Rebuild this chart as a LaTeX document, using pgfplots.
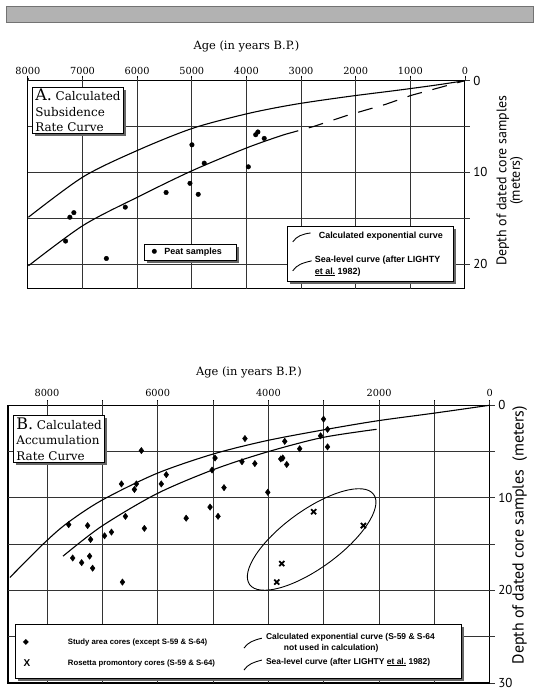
\documentclass[border=0pt]{standalone}
\usepackage{pgfplots}
\pgfplotsset{compat=1.18}
\usepackage{fontspec}
\setmainfont{DejaVu Serif}
\newfontfamily\ptsans{PT Sans}
\newfontfamily\lsans{Liberation Sans}
\newfontfamily\djsans{DejaVu Sans}
\usetikzlibrary{shadows}

\pgfplotsset{
  depthaxis/.style={
    scale only axis, anchor=north west, clip=false,
    x dir=reverse, y dir=reverse,
    axis line style={line width=1.1pt, black},
    xtick pos=right, xticklabel pos=right,
    ytick pos=right, yticklabel pos=right,
    tick align=outside,
    major tick length=5pt, minor tick length=5pt,
    every tick/.append style={black, line width=0.8pt},
    /pgf/number format/assume math mode=true,
    /pgf/number format/1000 sep={},
    xticklabel style={font=\fontsize{9.8}{11}\selectfont},
    yticklabel style={font=\ptsans\fontsize{13}{14}\selectfont},
    every axis x label/.style={at={(axis description cs:0.5,1)}, anchor=base,
      font=\fontsize{11.5}{13}\selectfont},
  },
  peat/.style={only marks, mark=*, mark size=2.3pt, black},
  cores/.style={only marks, mark=diamond*, mark size=3.2pt, black},
  rosetta/.style={only marks, mark=x, mark size=3.6pt, black,
    mark options={line width=1.8pt}},
  curve/.style={no marks, smooth, black, line width=1.1pt},
}
\tikzset{
  boxshadow/.style={drop shadow={shadow xshift=2.5pt, shadow yshift=-2.5pt, fill=black!60, opacity=1}},
  gridl/.style={black!80, line width=0.7pt},
}

\begin{document}
\begin{tikzpicture}
\path (0pt,0pt) rectangle (536pt,-691pt);

% ---- A: subsidence
\begin{axis}[depthaxis, at={(28pt,-81pt)}, width=439pt, height=209pt,
  xmin=0, xmax=8000, ymin=0, ymax=22.7,
  xtick={0,1000,...,8000},
  ytick={0,10,20}, minor ytick={5,15},
  xticklabel shift=-2pt,
  xlabel={Age (in years B.P.)}, xlabel style={yshift=31pt},
  ylabel={Depth of dated core samples\\(meters)},
  every axis y label/.style={at={(axis description cs:1,0.5)}, xshift=45pt, yshift=4pt,
    rotate=90, anchor=center, align=center, font=\ptsans\fontsize{14}{13.5}\selectfont},
]
\pgfplotsinvokeforeach{1000,2000,3000,4000,5000,6000,7000}{
  \draw[gridl] (axis cs:#1,0) -- (axis cs:#1,22.7);}
\pgfplotsinvokeforeach{5,10,15,20}{
  \draw[gridl] (axis cs:0,#1) -- (axis cs:8000,#1);}
\pgfplotsinvokeforeach{0,1000,2000,3000,4000,5000,6000,7000,8000}{
  \draw[gridl] (axis cs:#1,0) -- ++(0pt,3pt);}
\pgfplotsinvokeforeach{0,5,10,15,20}{
  \draw[gridl] (axis cs:0,#1) -- ++(5pt,0pt);}
\addplot[curve] coordinates {(0,0) (490,0.45) (1170,1.0) (2160,1.75) (3130,2.6) (3980,3.6)
  (4985,5.2) (5990,7.6) (6990,10.5) (7990,14.9)};
\addplot[curve] coordinates {(3315,5.9) (3980,7.3) (4985,9.8) (5990,12.7) (6990,15.8) (7990,20.2)};
\addplot[black, line width=1.1pt, dash pattern=on 15pt off 11pt] coordinates {(3315,5.9) (2770,5.0)
  (2160,3.8) (1460,2.6) (980,1.6) (0,0)};
\addplot[peat] coordinates {
  (4997,7.0) (4772,9.0) (5033,11.2) (4882,12.4) (5470,12.2) (3965,9.4)
  (3830,5.9) (3790,5.6) (3674,6.3) (6217,13.8) (7231,14.9) (7158,14.4)
  (7310,17.5) (6563,19.4)};
\end{axis}

% ---- B: accumulation
\begin{axis}[depthaxis, at={(8pt,-407pt)}, width=484pt, height=279pt,
  xmin=0, xmax=8705, ymin=0, ymax=30,
  xtick={0,2000,...,8000}, minor xtick={1000,3000,5000,7000},
  ytick={0,10,20,30}, minor ytick={5,15,25},
  xlabel={Age (in years B.P.)}, xlabel style={yshift=30pt},
  ylabel={Depth of dated core samples\ \ (meters)},
  every axis y label/.style={at={(axis description cs:1,0.5)}, xshift=30pt, yshift=9pt,
    rotate=90, anchor=center, font=\ptsans\fontsize{16}{17}\selectfont},
]
\pgfplotsinvokeforeach{1000,2000,3000,4000,5000,6000,7000,8000}{
  \draw[gridl] (axis cs:#1,0) -- (axis cs:#1,30);}
\pgfplotsinvokeforeach{5,10,15,20,25}{
  \draw[gridl] (axis cs:0,#1) -- (axis cs:8705,#1);}
\pgfplotsinvokeforeach{0,1000,2000,3000,4000,5000,6000,7000,8000}{
  \draw[gridl] (axis cs:#1,0) -- ++(0pt,4pt);}
\pgfplotsinvokeforeach{0,5,10,15,20,25,30}{
  \draw[gridl] (axis cs:0,#1) -- ++(5pt,0pt);}
\addplot[curve] coordinates {(0,0) (1000,0.85) (2050,1.7) (3040,2.7) (4050,3.85) (5015,5.3)
  (6030,7.4) (7020,10.3) (7650,12.8) (8070,15.0) (8670,18.6)};
\addplot[curve] coordinates {(2045,2.6) (3034,3.5) (4052,5.1) (5013,7.0) (6030,9.6)
  (7020,13.1) (7710,16.3)};
\addplot[cores] coordinates {
  (6295,4.9) (4424,3.6) (4964,5.7) (4478,6.1) (4245,6.3) (5018,7.0) (5845,7.5)
  (5935,8.5) (4802,8.9) (6655,8.5) (6385,8.5) (6421,9.1) (4011,9.4) (5054,11.0)
  (4910,12.0) (5486,12.2) (6241,13.3) (6583,12.0) (7266,13.0) (7608,12.9)
  (6835,13.7) (6960,14.1) (7212,14.5) (7536,16.5) (7374,17.0) (7230,16.3)
  (7176,17.6) (6637,19.1) (3004,1.5) (2932,2.6) (3058,3.3) (2932,4.5)
  (3705,3.9) (3435,4.7) (3777,5.8) (3741,5.7) (3669,6.4)};
\addplot[rosetta] coordinates {(3183,11.5) (2284,13.0) (3759,17.1) (3849,19.1)};
\draw[line width=0.9pt, rotate around={36:(axis cs:3219,14.5)}]
  (axis cs:3219,14.5) ellipse [x radius=77pt, y radius=29pt];
\end{axis}

\begin{scope}[x=1pt, y=-1pt]
% banner
\fill[gray!60, draw=black!55, line width=0.6pt] (6,6) rectangle (536,22);

% title boxes
\node[draw, line width=0.9pt, fill=white, boxshadow, anchor=north west, inner xsep=3pt,
  inner ysep=2pt, align=left, font=\fontsize{12}{15.5}\selectfont] at (32,87)
  {{\fontsize{16}{15.5}\selectfont A.} Calculated\\Subsidence\\Rate Curve};
\node[draw, line width=0.9pt, fill=white, boxshadow, anchor=north west, inner xsep=3pt,
  inner ysep=2pt, align=left, font=\fontsize{12}{15.5}\selectfont] at (13,417)
  {{\fontsize{16}{15.5}\selectfont B.} Calculated\\Accumulation\\Rate Curve};

% legend A: peat
\node[draw, line width=0.9pt, fill=white, boxshadow, anchor=north west, inner sep=0pt,
  minimum width=92pt, minimum height=16pt] at (145,245) {};
\node[font=\djsans\fontsize{6.5}{7}\selectfont] at (155,253) {●};
\node[anchor=west, inner sep=0pt, font=\lsans\bfseries\fontsize{9}{10}\selectfont] at (165,253) {Peat samples};

% legend A: curves
\node[draw, line width=0.9pt, fill=white, boxshadow, anchor=north west, inner sep=0pt,
  minimum width=167pt, minimum height=55pt] at (288,227) {};
\draw[line width=0.9pt] (294,243) .. controls (298,237) and (304,235) .. (312,234);
\node[anchor=west, inner sep=0pt, font=\lsans\bfseries\fontsize{9}{10}\selectfont] at (320,237)
  {Calculated exponential curve};
\draw[line width=0.9pt] (294,272) .. controls (298,266) and (304,264) .. (313,262);
\node[anchor=west, inner sep=0pt, align=left, font=\lsans\bfseries\fontsize{9}{12}\selectfont] at (316,267)
  {Sea-level curve (after LIGHTY\\\underline{et al.} 1982)};

% legend B
\node[draw, line width=0.9pt, fill=white, boxshadow, anchor=north west, inner sep=0pt,
  minimum width=448pt, minimum height=54pt] at (15,627) {};
\node[font=\djsans\fontsize{8}{9}\selectfont] at (26,645) {◆};
\node[anchor=west, inner sep=0pt, font=\lsans\bfseries\fontsize{7.8}{9}\selectfont] at (68,645)
  {Study area cores (except S-59 \& S-64)};
\node[font=\lsans\bfseries\fontsize{10}{11}\selectfont] at (27,666) {X};
\node[anchor=west, inner sep=0pt, font=\lsans\bfseries\fontsize{7.8}{9}\selectfont] at (68,666)
  {Rosetta promontory cores (S-59 \& S-64)};
\draw[line width=0.9pt] (245,651) .. controls (249,645) and (255,643) .. (263,641);
\node[anchor=west, inner sep=0pt, font=\lsans\bfseries\fontsize{8.5}{9}\selectfont] at (267,640)
  {Calculated exponential curve (S-59 \& S-64};
\node[anchor=west, inner sep=0pt, font=\lsans\bfseries\fontsize{8.5}{9}\selectfont] at (285,651)
  {not used in calculation)};
\draw[line width=0.9pt] (245,673) .. controls (249,667) and (255,665) .. (263,663);
\node[anchor=west, inner sep=0pt, font=\lsans\bfseries\fontsize{8.5}{9}\selectfont] at (267,665)
  {Sea-level curve (after LIGHTY \underline{et al.} 1982)};
\end{scope}
\end{tikzpicture}
\end{document}
